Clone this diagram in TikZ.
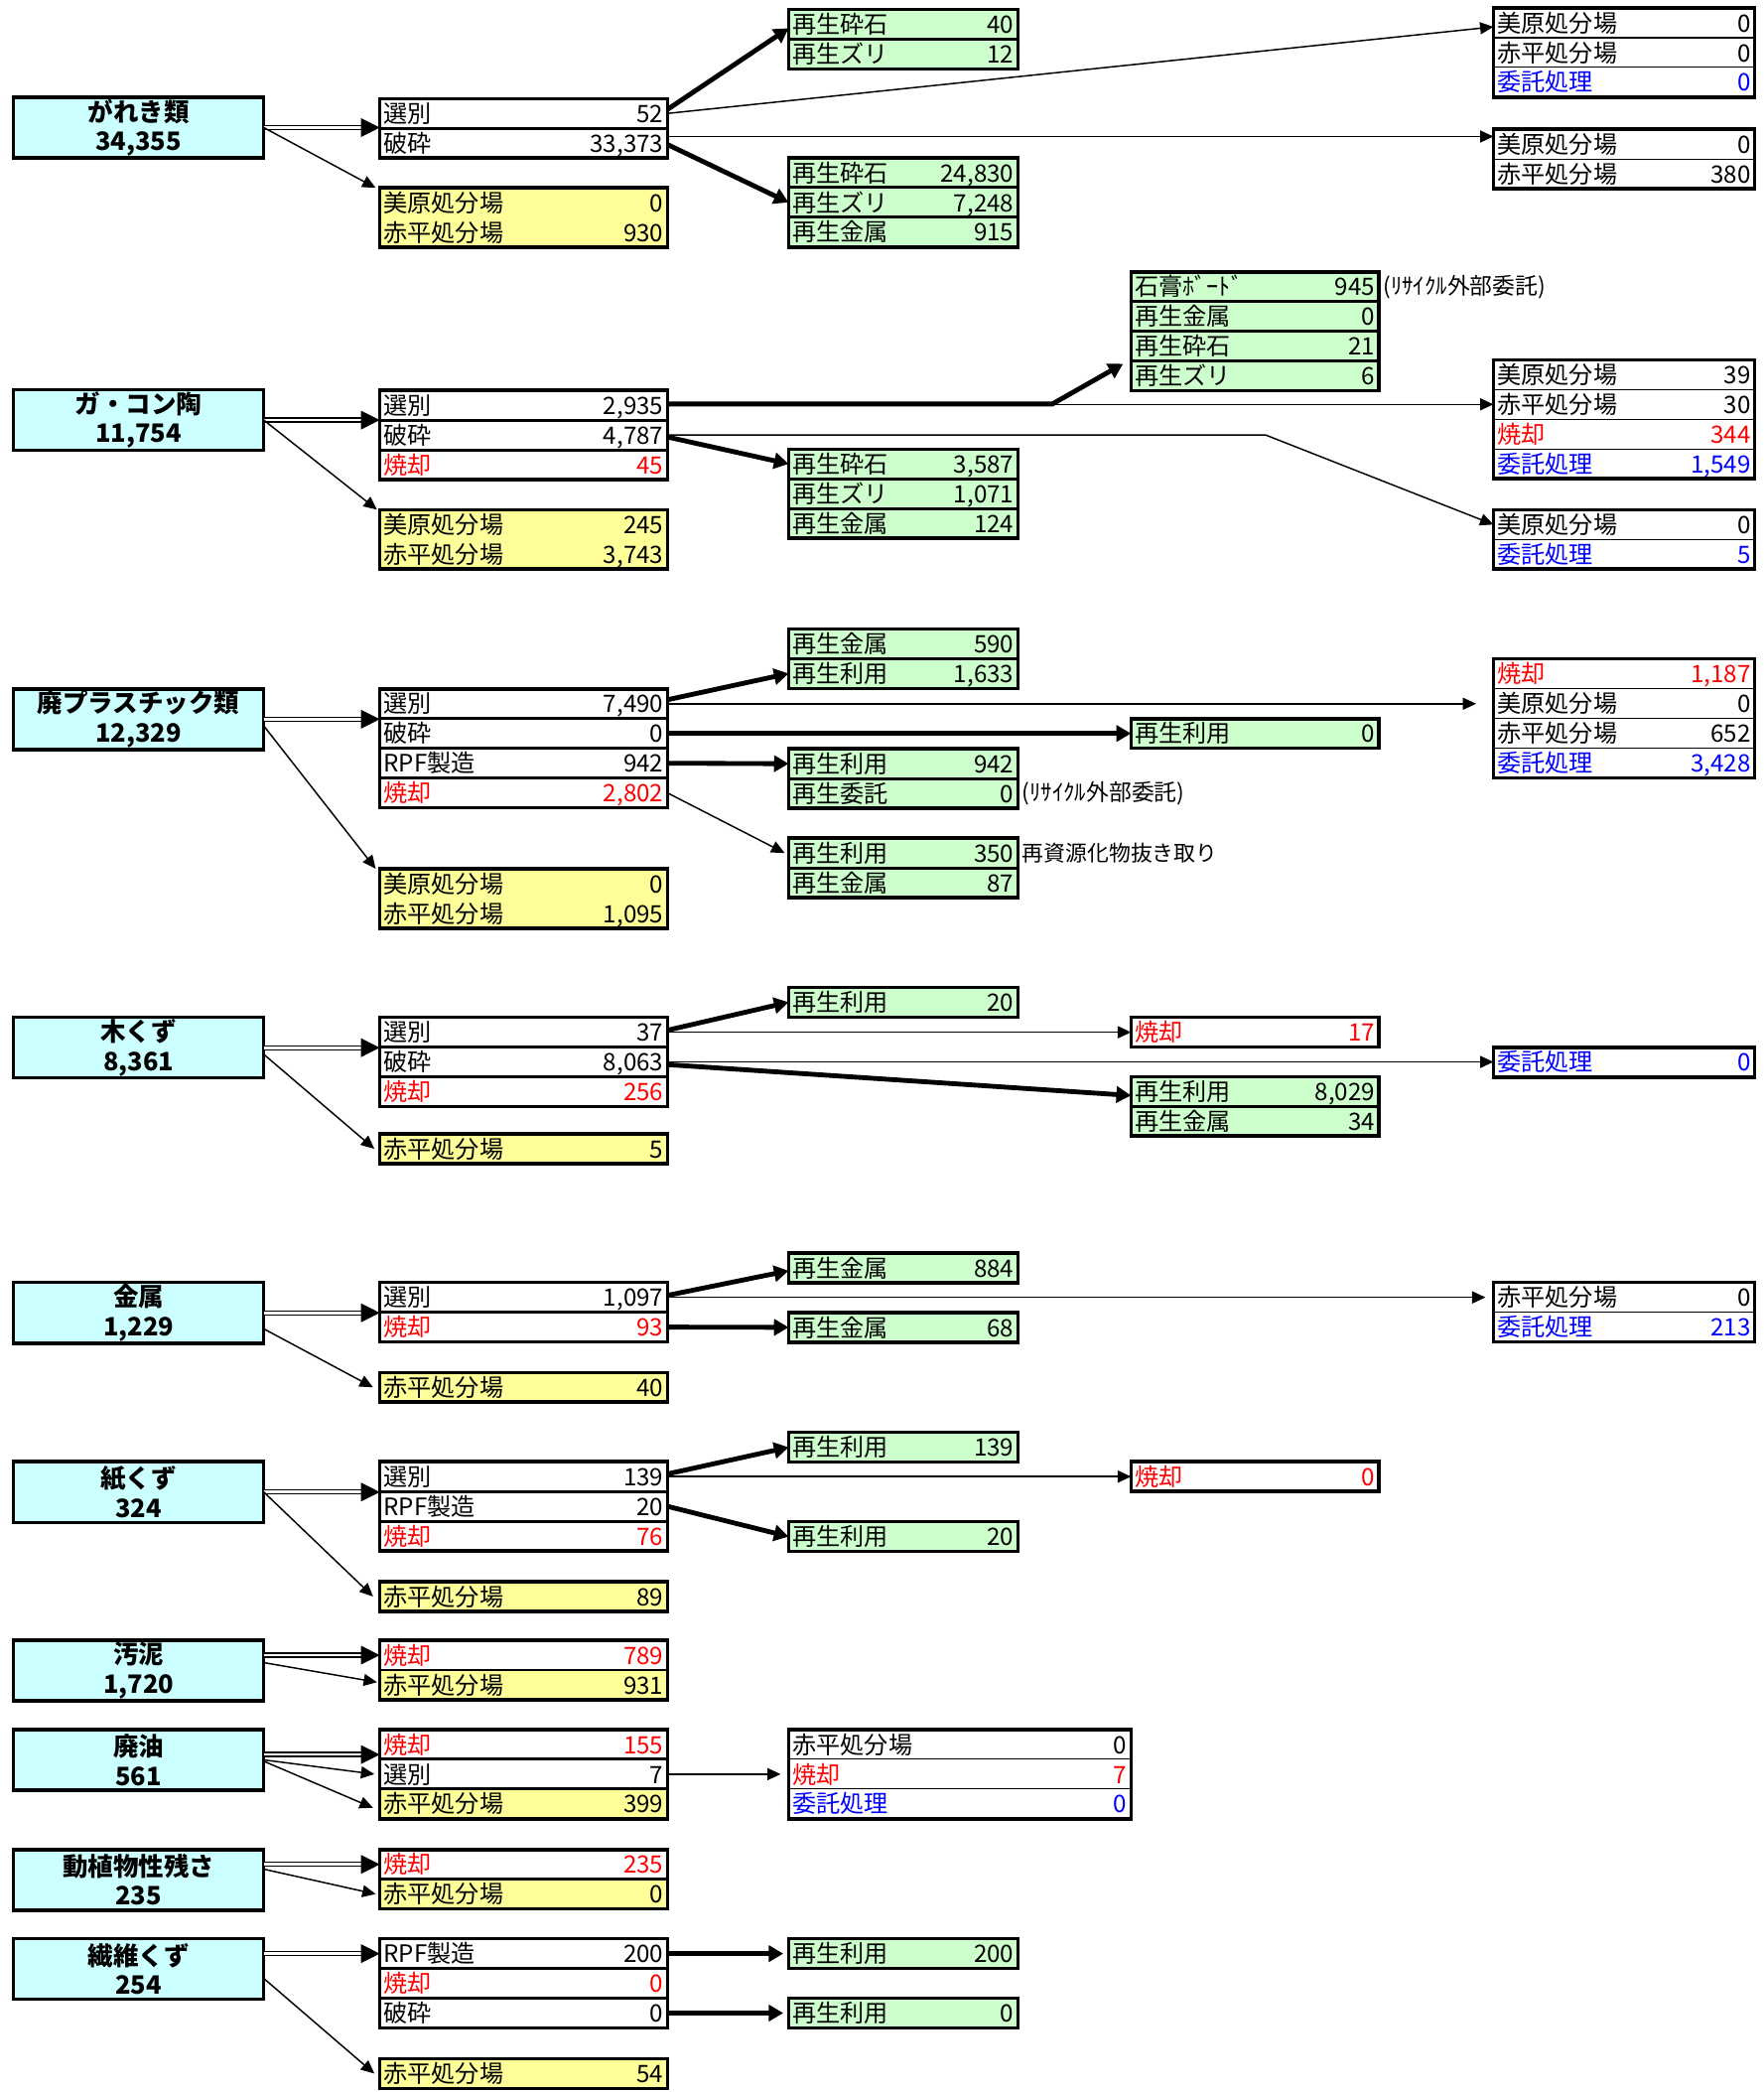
\documentclass[tikz,border=0pt]{standalone}
\usepackage{fontspec}
\setmainfont{Noto Sans CJK JP}
\usetikzlibrary{arrows.meta,calc}
\definecolor{cyanf}{HTML}{CCFFFF}
\definecolor{greenf}{HTML}{CCFFCC}
\definecolor{yellowf}{HTML}{FFFF99}
\newlength\wtwo \setlength\wtwo{210pt}
\newlength\wthree \setlength\wthree{166pt}
\newlength\wfour \setlength\wfour{180pt}
\newlength\wfive \setlength\wfive{190pt}
\newlength\wwide \setlength\wwide{251pt}
\def\xtwo{285}\def\xthree{592}\def\xfour{849}\def\xfive{1121}\def\xwide{592}
\newcommand\redt[1]{\textcolor{red}{#1}}
\newcommand\bluet[1]{\textcolor{blue}{#1}}
\tikzset{
  cell/.style={anchor=north west, inner xsep=3pt, inner ysep=0pt, outer sep=0pt,
    minimum height=22.3pt, text height=15.8pt, text depth=2.2pt,
    font=\fontsize{18}{18}\selectfont},
  ctwo/.style={cell, minimum width=216pt},
  cthree/.style={cell, minimum width=172pt},
  cfour/.style={cell, minimum width=186pt},
  cfive/.style={cell, minimum width=196pt},
  cwide/.style={cell, minimum width=257pt},
  src/.style={anchor=north west, draw, line width=2.6pt, fill=cyanf, minimum width=188pt,
    minimum height=45.5pt, inner sep=0pt, outer sep=0pt, align=center,
    font=\bfseries\fontsize{19}{22}\selectfont},
  frame/.style={line width=2.6pt},
  divk/.style={line width=2.2pt},
  divt/.style={line width=0.8pt},
  thinarr/.style={line width=1.1pt, -{Triangle[length=10pt,width=9pt]}},
  thkarr/.style={line width=3.6pt, -{Triangle[length=11pt,width=12pt]}},
  dblline/.style={line width=1pt, double=white, double distance=2pt},
  dbltip/.style={line width=0.5pt, -{Triangle[length=14pt,width=14pt]}},
  note/.style={anchor=west, inner sep=1pt, font=\fontsize{16.3}{16.3}\selectfont},
  pnote/.style={anchor=west, inner sep=1pt, font=\fontsize{17}{17}\selectfont},
}
\newcommand\rw[6]{\node[c#2, fill=#4] (#1) at (\csname x#2\endcsname,#3) {\makebox[\csname w#2\endcsname]{#5\hfill #6}};}
\newcommand\srcbox[4]{\node[src] (#1) at (10,#2) {#3\\#4};}
\newcommand\frm[2]{\draw[frame] (#1.north west) rectangle (#2.south east);}
\newcommand\dvk[1]{\draw[divk] (#1.south west) -- (#1.south east);}
\newcommand\dvt[1]{\draw[divt] (#1.south west) -- (#1.south east);}
\newcommand\dbl[2]{\draw[dblline, shorten >=13pt] (#1) -- (#2);
  \draw[dbltip] ($(#2)+(-14pt,0)$) -- (#2);}
\begin{document}
\begin{tikzpicture}[x=1pt,y=-1pt]
\fill[white] (0,0) rectangle (1323.4,1570);
\useasboundingbox (0,0) rectangle (1323.4,1570);
\coordinate (x790) at (790,0);
\coordinate (x950) at (950,0);

% ================= Group 1
\srcbox{s1}{73}{がれき類}{34,355}
\rw{p1a}{two}{74}{white}{選別}{52}
\rw{p1b}{two}{96.3}{white}{破砕}{33,373}
\rw{y1a}{two}{141}{yellowf}{美原処分場}{0}
\rw{y1b}{two}{163.3}{yellowf}{赤平処分場}{930}
\rw{g1a}{three}{7}{greenf}{再生砕石}{40}
\rw{g1b}{three}{29.3}{greenf}{再生ズリ}{12}
\rw{g1c}{three}{118.5}{greenf}{再生砕石}{24,830}
\rw{g1d}{three}{140.8}{greenf}{再生ズリ}{7,248}
\rw{g1e}{three}{163.1}{greenf}{再生金属}{915}
\rw{r1a}{five}{6}{white}{美原処分場}{0}
\rw{r1b}{five}{28.3}{white}{赤平処分場}{0}
\rw{r1c}{five}{50.6}{white}{\bluet{委託処理}}{\bluet{0}}
\rw{r1d}{five}{97}{white}{美原処分場}{0}
\rw{r1e}{five}{119.3}{white}{赤平処分場}{380}
\frm{p1a}{p1b}\dvk{p1a}
\frm{y1a}{y1b}
\frm{g1a}{g1b}\dvk{g1a}
\frm{g1c}{g1e}\dvk{g1c}\dvk{g1d}
\frm{r1a}{r1c}\dvt{r1a}\dvt{r1b}
\frm{r1d}{r1e}\dvt{r1d}
\coordinate (d1) at (s1.east -| p1a.west);
\dbl{s1.east}{d1}
\draw[thinarr] (s1.east) -- ([xshift=-3pt]y1a.north west);
\draw[thkarr] ([yshift=3pt]p1a.east) -- ([yshift=-3pt]g1a.west);
\draw[thinarr] (p1a.east) -- ([yshift=-3pt]r1a.west);
\draw[thinarr] ([yshift=5pt]p1b.east) -- ([yshift=5pt]p1b.east -| r1d.west);
\draw[thkarr] ([yshift=-1pt]p1b.east) -- (g1d.west);

% ================= Group 2
\srcbox{s2}{292.5}{ガ・コン陶}{11,754}
\rw{p2a}{two}{293}{white}{選別}{2,935}
\rw{p2b}{two}{315.3}{white}{破砕}{4,787}
\rw{p2c}{two}{337.6}{white}{\redt{焼却}}{\redt{45}}
\rw{y2a}{two}{382.5}{yellowf}{美原処分場}{245}
\rw{y2b}{two}{404.8}{yellowf}{赤平処分場}{3,743}
\rw{g2a}{four}{204}{greenf}{石膏ﾎﾞｰﾄﾞ}{945}
\rw{g2b}{four}{226.3}{greenf}{再生金属}{0}
\rw{g2c}{four}{248.6}{greenf}{再生砕石}{21}
\rw{g2d}{four}{270.9}{greenf}{再生ズリ}{6}
\rw{g2e}{three}{337}{greenf}{再生砕石}{3,587}
\rw{g2f}{three}{359.3}{greenf}{再生ズリ}{1,071}
\rw{g2g}{three}{381.6}{greenf}{再生金属}{124}
\rw{r2a}{five}{270}{white}{美原処分場}{39}
\rw{r2b}{five}{292.3}{white}{赤平処分場}{30}
\rw{r2c}{five}{314.6}{white}{\redt{焼却}}{\redt{344}}
\rw{r2d}{five}{336.9}{white}{\bluet{委託処理}}{\bluet{1,549}}
\rw{r2e}{five}{382.5}{white}{美原処分場}{0}
\rw{r2f}{five}{404.8}{white}{\bluet{委託処理}}{\bluet{5}}
\node[pnote] (n2) at ([xshift=2pt]g2a.east) {(ﾘｻｲｸﾙ外部委託)};
\frm{p2a}{p2c}\dvk{p2a}\dvk{p2b}
\frm{y2a}{y2b}
\frm{g2a}{g2d}\dvk{g2a}\dvk{g2b}\dvk{g2c}
\frm{g2e}{g2g}\dvk{g2e}\dvk{g2f}
\frm{r2a}{r2d}\dvt{r2a}\dvt{r2b}\dvt{r2c}
\frm{r2e}{r2f}\dvt{r2e}
\coordinate (d2) at (s2.east -| p2a.west);
\dbl{s2.east}{d2}
\draw[thinarr] (s2.east) -- ([xshift=-2pt]y2a.north west);
\draw[thinarr] (p2a.east |- r2b.west) -- (r2b.west);
\coordinate (k2s) at ([yshift=1pt]p2a.east);
\coordinate (k2a) at (k2s -| x790);
\draw[thkarr] (k2s) -- (k2a) -- ([xshift=-6pt,yshift=9pt]g2d.west);
\draw[thinarr] (p2b.east) -- (p2b.east -| x950) -- (r2e.west);
\draw[thkarr] ([yshift=-1.5pt]p2b.east) -- (g2e.west);

% ================= Group 3
\srcbox{s3}{517}{廃プラスチック類}{12,329}
\rw{p3a}{two}{517}{white}{選別}{7,490}
\rw{p3b}{two}{539.3}{white}{破砕}{0}
\rw{p3c}{two}{561.6}{white}{RPF製造}{942}
\rw{p3d}{two}{583.9}{white}{\redt{焼却}}{\redt{2,802}}
\rw{y3a}{two}{652}{yellowf}{美原処分場}{0}
\rw{y3b}{two}{674.3}{yellowf}{赤平処分場}{1,095}
\rw{g3a}{three}{472}{greenf}{再生金属}{590}
\rw{g3b}{three}{494.3}{greenf}{再生利用}{1,633}
\rw{g3c}{four}{539.3}{greenf}{再生利用}{0}
\rw{g3d}{three}{562}{greenf}{再生利用}{942}
\rw{g3e}{three}{584.3}{greenf}{再生委託}{0}
\rw{g3f}{three}{629}{greenf}{再生利用}{350}
\rw{g3g}{three}{651.3}{greenf}{再生金属}{87}
\rw{r3a}{five}{494.5}{white}{\redt{焼却}}{\redt{1,187}}
\rw{r3b}{five}{516.8}{white}{美原処分場}{0}
\rw{r3c}{five}{539.1}{white}{赤平処分場}{652}
\rw{r3d}{five}{561.4}{white}{\bluet{委託処理}}{\bluet{3,428}}
\node[pnote] (n3a) at ([xshift=2pt]g3e.east) {(ﾘｻｲｸﾙ外部委託)};
\node[note] (n3b) at ([xshift=2pt]g3f.east) {再資源化物抜き取り};
\frm{p3a}{p3d}\dvk{p3a}\dvk{p3b}\dvk{p3c}
\frm{y3a}{y3b}
\frm{g3a}{g3b}\dvk{g3a}
\frm{g3c}{g3c}
\frm{g3d}{g3e}\dvk{g3d}
\frm{g3f}{g3g}\dvk{g3f}
\frm{r3a}{r3d}\dvt{r3a}\dvt{r3b}\dvt{r3c}
\coordinate (d3) at (s3.east -| p3a.west);
\dbl{s3.east}{d3}
\draw[thinarr] ([yshift=-5pt]s3.east) -- ([xshift=-3pt]y3a.north west);
\draw[thkarr] ([yshift=3pt]p3a.east) -- (g3b.west);
\draw[thinarr] (p3a.east) -- ([xshift=-13pt]p3a.east -| r3b.west);
\draw[thkarr] (p3b.east) -- (g3c.west);
\draw[thkarr] (p3c.east) -- (g3d.west);
\draw[thinarr] (p3d.east) -- ([xshift=-3pt]g3f.west);

% ================= Group 4
\srcbox{s4}{763.5}{木くず}{8,361}
\rw{p4a}{two}{763.5}{white}{選別}{37}
\rw{p4b}{two}{785.8}{white}{破砕}{8,063}
\rw{p4c}{two}{808.1}{white}{\redt{焼却}}{\redt{256}}
\rw{y4a}{two}{851}{yellowf}{赤平処分場}{5}
\rw{g4a}{three}{741}{greenf}{再生利用}{20}
\rw{c4a}{four}{763.5}{white}{\redt{焼却}}{\redt{17}}
\rw{r4a}{five}{786}{white}{\bluet{委託処理}}{\bluet{0}}
\rw{g4b}{four}{808}{greenf}{再生利用}{8,029}
\rw{g4c}{four}{830.3}{greenf}{再生金属}{34}
\frm{p4a}{p4c}\dvk{p4a}\dvk{p4b}
\frm{y4a}{y4a}
\frm{g4a}{g4a}
\frm{c4a}{c4a}
\frm{r4a}{r4a}
\frm{g4b}{g4c}\dvk{g4b}
\coordinate (d4) at (s4.east -| p4a.west);
\dbl{s4.east}{d4}
\draw[thinarr] ([yshift=-5pt]s4.east) -- ([xshift=-4pt]y4a.west);
\draw[thkarr] ([yshift=1.5pt]p4a.east) -- (g4a.west);
\draw[thinarr] (p4a.east) -- (c4a.west);
\draw[thinarr] (p4b.east) -- (p4b.east -| r4a.west);
\draw[thkarr] ([yshift=-2pt]p4b.east) -- ([yshift=-3pt]g4b.west);

% ================= Group 5
\srcbox{s5}{962.5}{金属}{1,229}
\rw{p5a}{two}{962.5}{white}{選別}{1,097}
\rw{p5b}{two}{984.8}{white}{\redt{焼却}}{\redt{93}}
\rw{y5a}{two}{1030}{yellowf}{赤平処分場}{40}
\rw{g5a}{three}{940.5}{greenf}{再生金属}{884}
\rw{g5b}{three}{985}{greenf}{再生金属}{68}
\rw{r5a}{five}{962.5}{white}{赤平処分場}{0}
\rw{r5b}{five}{984.8}{white}{\bluet{委託処理}}{\bluet{213}}
\frm{p5a}{p5b}\dvk{p5a}
\frm{y5a}{y5a}
\frm{g5a}{g5a}
\frm{g5b}{g5b}
\frm{r5a}{r5b}\dvt{r5a}
\coordinate (d5) at (s5.east -| p5a.west);
\dbl{s5.east}{d5}
\draw[thinarr] ([yshift=-12pt]s5.east) -- ([xshift=-5pt]y5a.west);
\draw[thkarr] ([yshift=1.5pt]p5a.east) -- ([yshift=-2pt]g5a.west);
\draw[thinarr] (p5a.east) -- ([xshift=-6pt]p5a.east -| r5a.west);
\draw[thkarr] (p5b.east) -- (g5b.west);

% ================= Group 6
\srcbox{s6}{1097}{紙くず}{324}
\rw{p6a}{two}{1097}{white}{選別}{139}
\rw{p6b}{two}{1119.3}{white}{RPF製造}{20}
\rw{p6c}{two}{1141.6}{white}{\redt{焼却}}{\redt{76}}
\rw{y6a}{two}{1187}{yellowf}{赤平処分場}{89}
\rw{g6a}{three}{1075}{greenf}{再生利用}{139}
\rw{g6b}{three}{1142}{greenf}{再生利用}{20}
\rw{c6a}{four}{1097}{white}{\redt{焼却}}{\redt{0}}
\frm{p6a}{p6c}\dvk{p6a}\dvk{p6b}
\frm{y6a}{y6a}
\frm{g6a}{g6a}
\frm{g6b}{g6b}
\frm{c6a}{c6a}
\coordinate (d6) at (s6.east -| p6a.west);
\dbl{s6.east}{d6}
\draw[thinarr] (s6.east) -- ([xshift=-5pt]y6a.west);
\draw[thkarr] ([yshift=2pt]p6a.east) -- (g6a.west);
\draw[thinarr] (p6a.east) -- (p6a.east -| c6a.west);
\draw[thkarr] (p6b.east) -- (g6b.west);

% ================= Group 7
\srcbox{s7}{1231}{汚泥}{1,720}
\rw{p7a}{two}{1231}{white}{\redt{焼却}}{\redt{789}}
\rw{p7b}{two}{1253.3}{yellowf}{赤平処分場}{931}
\frm{p7a}{p7b}\dvk{p7a}
\coordinate (d7) at (s7.east |- p7a.west);
\dbl{d7}{p7a.west}
\draw[thinarr] ([yshift=6pt]s7.east) -- ([xshift=-2pt,yshift=2pt]p7b.west);

% ================= Group 8
\srcbox{s8}{1298}{廃油}{561}
\rw{p8a}{two}{1298}{white}{\redt{焼却}}{\redt{155}}
\rw{p8b}{two}{1320.3}{white}{選別}{7}
\rw{p8c}{two}{1342.6}{yellowf}{赤平処分場}{399}
\rw{c8a}{wide}{1298}{white}{赤平処分場}{0}
\rw{c8b}{wide}{1320.3}{white}{\redt{焼却}}{\redt{7}}
\rw{c8c}{wide}{1342.6}{white}{\bluet{委託処理}}{\bluet{0}}
\frm{p8a}{p8c}\dvk{p8a}\dvk{p8b}
\frm{c8a}{c8c}\dvt{c8a}\dvt{c8b}
\coordinate (d8s) at ([yshift=4pt]s8.east);
\coordinate (d8) at (d8s -| p8a.west);
\dbl{d8s}{d8}
\draw[thinarr] (s8.east) -- ([xshift=-4pt]p8b.west);
\draw[thinarr] ([yshift=-1pt]s8.east) -- ([xshift=-5pt,yshift=-3pt]p8c.west);
\draw[thinarr] (p8b.east) -- ([xshift=-6pt]c8b.west);

% ================= Group 9
\srcbox{s9}{1388}{動植物性残さ}{235}
\rw{p9a}{two}{1388}{white}{\redt{焼却}}{\redt{235}}
\rw{p9b}{two}{1410.3}{yellowf}{赤平処分場}{0}
\frm{p9a}{p9b}\dvk{p9a}
\coordinate (d9) at (s9.east |- p9a.west);
\dbl{d9}{p9a.west}
\draw[thinarr] ([yshift=8pt]s9.east) -- ([xshift=-3pt]p9b.west);

% ================= Group 10
\srcbox{s10}{1455}{繊維くず}{254}
\rw{p10a}{two}{1455}{white}{RPF製造}{200}
\rw{p10b}{two}{1477.3}{white}{\redt{焼却}}{\redt{0}}
\rw{p10c}{two}{1499.6}{white}{破砕}{0}
\rw{y10a}{two}{1545}{yellowf}{赤平処分場}{54}
\rw{g10a}{three}{1455}{greenf}{再生利用}{200}
\rw{g10b}{three}{1499.6}{greenf}{再生利用}{0}
\frm{p10a}{p10c}\dvk{p10a}\dvk{p10b}
\frm{y10a}{y10a}
\frm{g10a}{g10a}
\frm{g10b}{g10b}
\coordinate (d10) at (s10.east |- p10a.west);
\dbl{d10}{p10a.west}
\draw[thinarr] ([yshift=-7pt]s10.east) -- ([xshift=-4pt]y10a.west);
\draw[thkarr] (p10a.east) -- ([xshift=-4pt]g10a.west);
\draw[thkarr] (p10c.east) -- ([xshift=-4pt]g10b.west);
\end{tikzpicture}
\end{document}
